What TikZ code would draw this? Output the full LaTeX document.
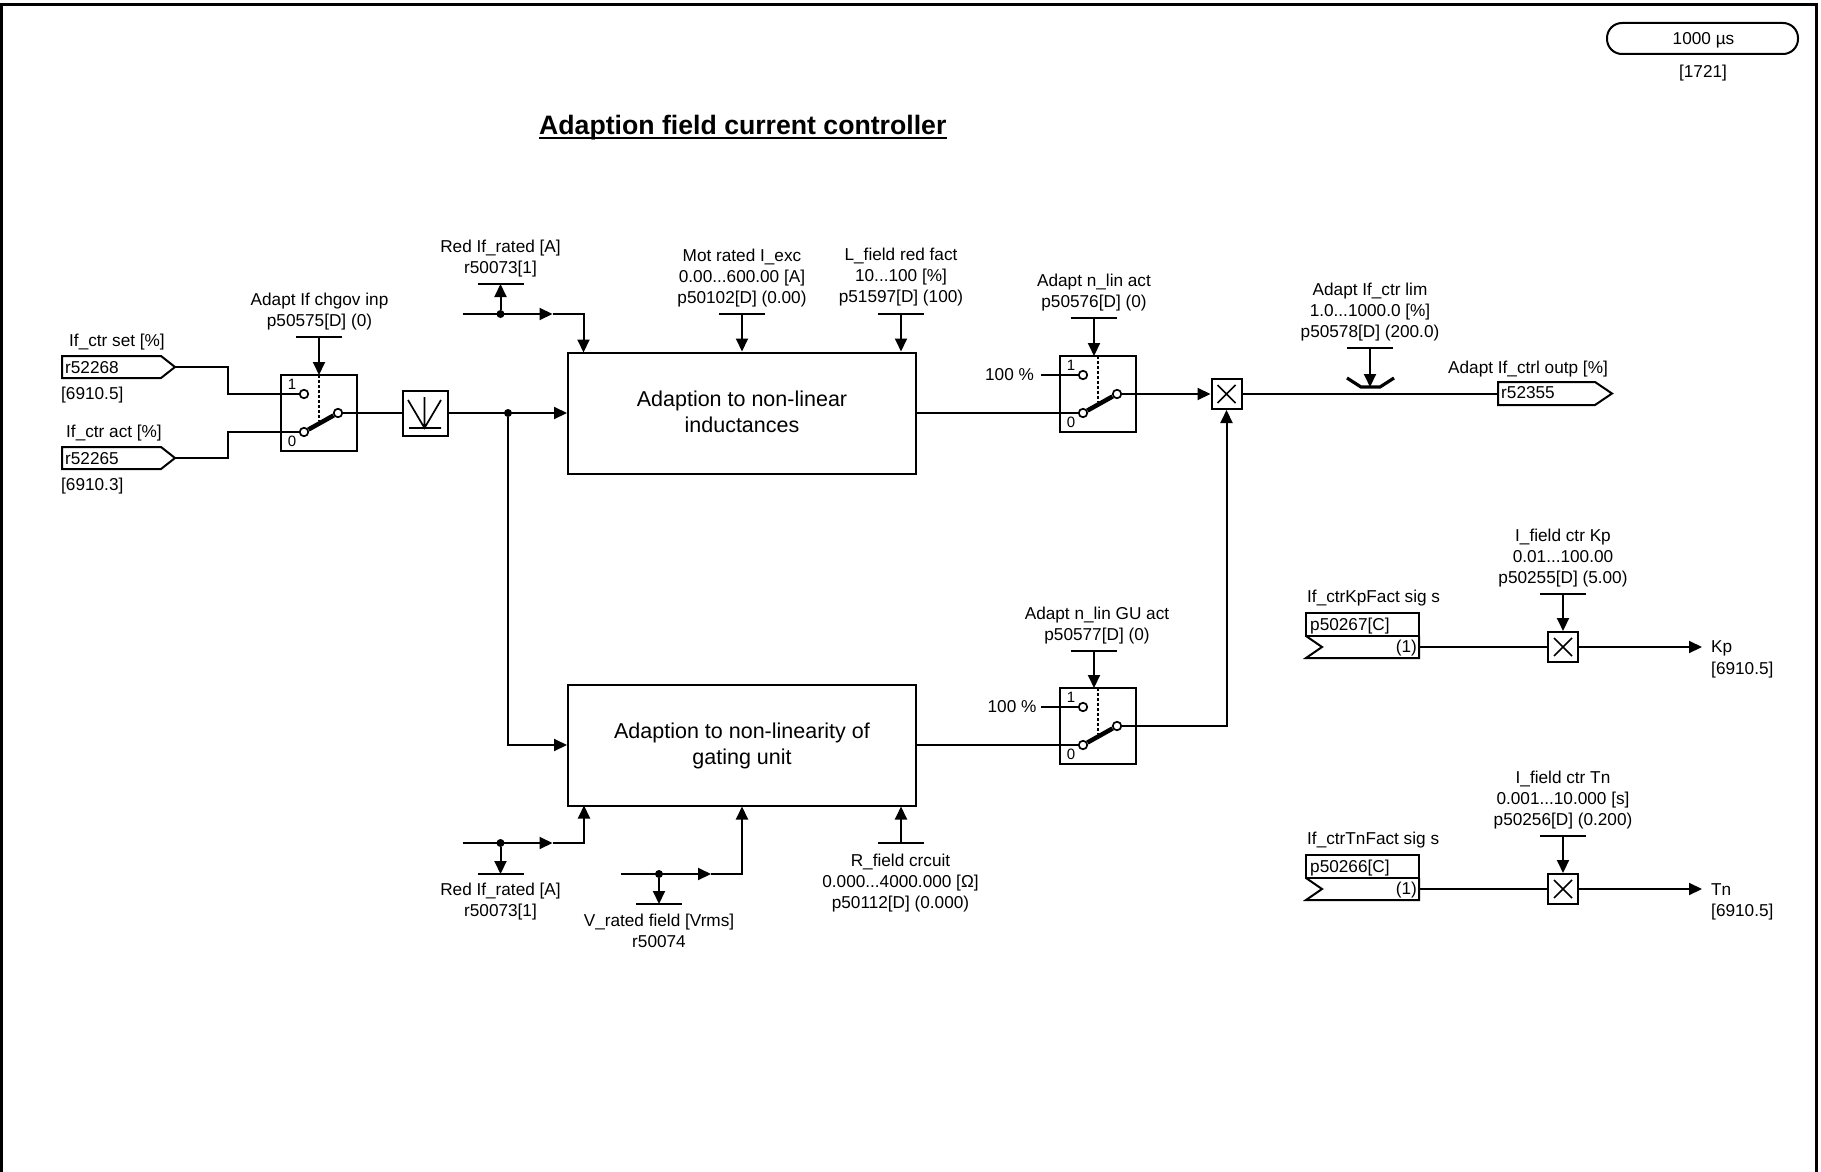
\documentclass[tikz,border=0pt]{standalone}
\usepackage{fontspec}
\setmainfont{Liberation Sans}
\usetikzlibrary{arrows.meta,calc}
\tikzset{
  wire/.style   = {line width=2pt},
  flow/.style   = {wire, -{Triangle[length=13pt,width=12pt]}},
  txt/.style    = {font=\fontsize{17.2}{21}\selectfont, align=center, inner sep=0pt, yshift=-1pt},
  block/.style  = {draw, wire, fill=white, minimum width=348pt, minimum height=121pt},
  blocktxt/.style = {font=\fontsize{21.5}{26}\selectfont, align=center, inner sep=0pt, yshift=-1pt},
  dot/.style    = {circle, fill=black, inner sep=0pt, minimum size=8pt},
  contact/.style = {circle, draw, line width=1.7pt, fill=white, inner sep=0pt, minimum size=8.5pt},
  mult/.style   = {draw, wire, fill=white, inner sep=0pt, minimum size=30pt,
                   path picture={\draw[line width=1.6pt]
                     ($(path picture bounding box.south west)+(6,-6)$) -- ($(path picture bounding box.north east)+(-6,6)$)
                     ($(path picture bounding box.north west)+(6,6)$) -- ($(path picture bounding box.south east)+(-6,-6)$);}},
  pics/switchbox/.style = {code={
    \draw[wire] (-38,-38) rectangle (38,38);
    \coordinate (-top) at (0,-38);
    \node[contact] (-hi) at (-15,-19) {};
    \node[contact] (-lo) at (-15,19) {};
    \node[contact] (-out) at (19,0) {};
    \draw[line width=1.6pt, densely dashed] (-top) -- (0,8);
    \draw[line width=4.5pt] (-lo) -- (-out);
    \node[txt, font=\fontsize{15}{16}\selectfont] (-one) at (-27,-30) {1};
    \node[txt, font=\fontsize{15}{16}\selectfont] (-zero) at (-27,27) {0};
  }},
}
\begin{document}
\begin{tikzpicture}[x=1pt,y=-1pt]
  \useasboundingbox (0,0) rectangle (1821,1172);
  % frame
  \draw[line width=3pt] (1.5,1172) -- (1.5,4.5) -- (1816,4.5) -- (1816,1172);
  \node[draw, wire, rounded corners=15pt, minimum width=191pt, minimum height=31pt, txt, yshift=1pt] (pill) at (1702.5,38.5) {};
  \node[txt] (pillTxt) at (1703.5,39.5) {1000 µs};
  \node[txt] (pillRef) at (1703,72) {[1721]};
  \node[inner sep=0pt, anchor=base west, font=\bfseries\fontsize{26.65}{30}\selectfont] (title) at (539,134) {Adaption field current controller};
  \draw[line width=2.6pt] ($(title.base west)+(0,4)$) -- ($(title.base east)+(0,4)$);

  % blocks
  \node[block] (blockA) at (742,413) {};
  \node[block] (blockB) at (742,745) {};
  \node[blocktxt] (blockAtxt) at (742,411) {Adaption to non-linear\\inductances};
  \node[blocktxt] (blockBtxt) at (742,744.5) {Adaption to non-linearity of\\gating unit};
  \pic (swA) at (319,413) {switchbox};
  \pic (swB) at (1098,394) {switchbox};
  \pic (swC) at (1098,726) {switchbox};
  \node[mult] (multMain) at (1226.5,394) {};
  \node[mult] (multKp) at (1563,647) {};
  \node[mult] (multTn) at (1563,889) {};

  % filter
  \node[draw, wire, minimum size=45pt, inner sep=0pt] (filter) at (425,413) {};
  \draw[line width=1.7pt] (408,400) -- (424.5,428) -- (441,400) (424.5,397) -- (424.5,428) (409,428) -- (441,428);

  % signal tags
  \foreach \nm/\y/\tid/\lab/\labx/\laby in {tagA/367/r52268/{If\_ctr set [\%]}/69/341,
                                            tagB/458/r52265/{If\_ctr act [\%]}/66/432}
  {
    \draw[wire] (62,\y-11) -- (161,\y-11) -- (175,\y) -- (161,\y+11) -- (62,\y+11) -- cycle;
    \coordinate (\nm) at (175,\y);
    \node[txt, anchor=west] (\nm-id) at (65,\y) {\tid};
    \node[txt, anchor=west] (\nm-lab) at (\labx,\laby) {\lab};
  }
  \node[txt, anchor=west] (refA) at (61,394) {[6910.5]};
  \node[txt, anchor=west] (refB) at (61,485) {[6910.3]};
  \draw[wire] (1498,382) -- (1595,382) -- (1612,393.5) -- (1595,405) -- (1498,405) -- cycle;
  \coordinate (tagOut) at (1498,394);
  \node[txt, anchor=west] (tagOutId) at (1501,392) {r52355};
  \node[txt] (tagOutLab) at (1528,368) {Adapt If\_ctrl outp [\%]};

  % parameter bars, name/x/y/half width
  \foreach \nm/\x/\y/\w in {ctlA/319/337/23, barRedT/500.5/284/23, barMot/742/314/23, barField/901/314/23,
                            ctlB/1094/318/23, ctlC/1094/651/23, barLim/1370/348/23,
                            barKp/1563/594/23, barTn/1563/836/23,
                            barRedB/500.5/874/23, barV/659/904/23, barR/901/843/23}
  {
    \coordinate (\nm) at (\x,\y);
    \draw[wire] (\x-\w,\y) -- (\x+\w,\y);
  }

  % parameter texts
  \foreach \nm/\x/\y/\txt in {
    lblA/319.5/311/{Adapt If chgov inp\\p50575[D] (0)},
    lblRedT/500.5/257.5/{Red If\_rated [A]\\r50073[1]},
    lblMot/742/277.5/{Mot rated I\_exc\\0.00...600.00 [A]\\p50102[D] (0.00)},
    lblField/901/276.5/{L\_field red fact\\10...100 [\%]\\p51597[D] (100)},
    lblB/1094/292/{Adapt n\_lin act\\p50576[D] (0)},
    lblC/1097/624.5/{Adapt n\_lin GU act\\p50577[D] (0)},
    lblLim/1370/311/{Adapt If\_ctr lim\\1.0...1000.0 [\%]\\p50578[D] (200.0)},
    lblKp/1563/557.5/{I\_field ctr Kp\\0.01...100.00\\p50255[D] (5.00)},
    lblTn/1563/799/{I\_field ctr Tn\\0.001...10.000 [s]\\p50256[D] (0.200)},
    lblRedB/500.5/901/{Red If\_rated [A]\\r50073[1]},
    lblV/659/929.5/{V\_rated field [Vrms]\\r50074},
    lblR/900.5/882/{R\_field crcuit\\0.000...4000.000 [Ω]\\p50112[D] (0.000)}}
    {\node[txt] (\nm) at (\x,\y) {\txt};}
  \node[txt] (pctB) at (1009.5,374) {100 \%};
  \node[txt] (pctC) at (1012,706) {100 \%};

  % limit symbol
  \draw[line width=3.2pt] (1347,378) -- (1361,387) -- (1380,387) -- (1394,378);
  \coordinate (limTip) at (1370,387);

  % left part
  \draw[wire] (tagA) -- (228,367) |- (swA-hi);
  \draw[wire] (tagB) -- (228,458) |- (swA-lo);
  \draw[flow] (ctlA) -- (swA-top);
  \draw[wire] (swA-out) -- (filter);
  \node[dot] (split) at (508,413) {};
  \draw[flow] (filter) -- (blockA.west);
  \draw[flow] (split) |- (blockB.west);

  % inputs above block A
  \node[dot] (dotRedT) at (500.5,314) {};
  \coordinate (startRedT) at (462.5,314);
  \coordinate (midRedT) at (552.5,314);
  \coordinate (inRedT) at (583.5,352.5);
  \draw[flow] (dotRedT) -- (barRedT);
  \draw[flow] (startRedT) -- (midRedT);
  \draw[flow] (midRedT) -| (inRedT);
  \draw[flow] (barMot) -- (barMot |- blockA.north);
  \draw[flow] (barField) -- (barField |- blockA.north);

  % inputs below block B
  \node[dot] (dotRedB) at (500.5,843) {};
  \coordinate (startRedB) at (462.5,843);
  \coordinate (midRedB) at (552.5,843);
  \coordinate (inRedB) at (584,805.5);
  \draw[flow] (dotRedB) -- (barRedB);
  \draw[flow] (startRedB) -- (midRedB);
  \draw[flow] (midRedB) -| (inRedB);
  \node[dot] (dotV) at (659,874) {};
  \coordinate (startV) at (620.5,874);
  \coordinate (midV) at (711,874);
  \draw[flow] (dotV) -- (barV);
  \draw[flow] (startV) -- (midV);
  \draw[flow] (midV) -| (blockB.south);
  \draw[flow] (barR) -- (barR |- blockB.south);

  % switches to main multiplier
  \draw[wire] (blockA.east) -- (swB-lo);
  \draw[wire] (blockB.east) -- (swC-lo);
  \coordinate (stubB) at (1041,375);
  \coordinate (stubC) at (1041,707);
  \draw[wire] (stubB) -- (swB-hi);
  \draw[wire] (stubC) -- (swC-hi);
  \draw[flow] (ctlB) -- (ctlB |- swB-top);
  \draw[flow] (ctlC) -- (ctlC |- swC-top);
  \draw[flow] (swB-out) -- (multMain);
  \draw[flow] (swC-out) -| (multMain);
  \draw[wire] (multMain) -- (tagOut);
  \draw[flow] (barLim) -- (limTip);

  % right part
  \foreach \nm/\y/\pid/\lab/\sig in {Kp/647/p50267[C]/If\_ctrKpFact sig s/Kp, Tn/889/p50266[C]/If\_ctrTnFact sig s/Tn}
  {
    \draw[wire] (1306,\y-34) rectangle (1419,\y-11);
    \draw[wire] (1306,\y-11) -- (1322,\y) -- (1306,\y+11) -- (1419,\y+11) -- (1419,\y-11);
    \coordinate (fact\nm) at (1419,\y);
    \coordinate (end\nm) at (1702,\y);
    \node[txt, anchor=west] (factId\nm) at (1310,\y-22) {\pid};
    \node[txt, anchor=east] (factOne\nm) at (1417,\y) {(1)};
    \node[txt, anchor=west] (factLab\nm) at (1307,\y-50) {\lab};
    \node[txt, anchor=west] (sig\nm) at (1711,\y) {\sig};
    \node[txt, anchor=west] (sigRef\nm) at (1711,\y+22) {[6910.5]};
    \draw[wire] (fact\nm) -- (mult\nm);
    \draw[flow] (mult\nm) -- (end\nm);
    \draw[flow] (bar\nm) -- (mult\nm);
  }
\end{tikzpicture}
\end{document}
